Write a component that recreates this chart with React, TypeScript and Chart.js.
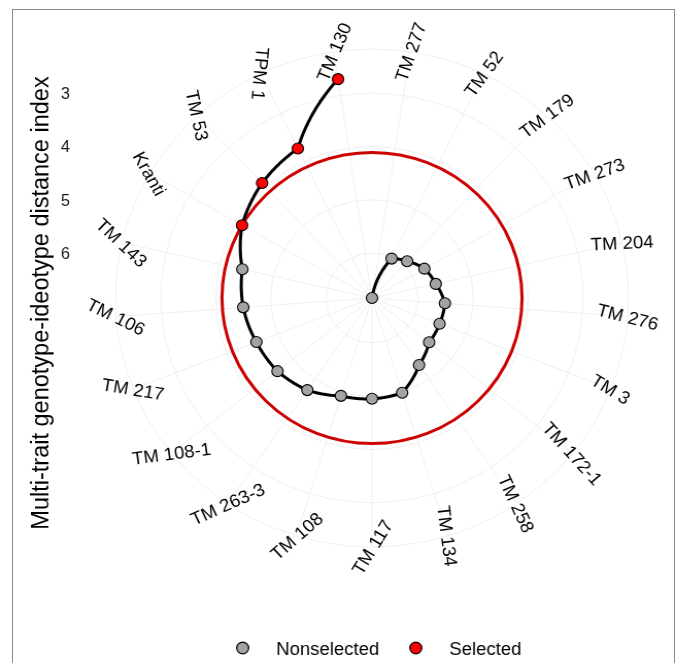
import React, { useEffect, useRef } from 'react';
import { Chart, registerables } from 'chart.js';

Chart.register(...registerables);

// Genotypes in clockwise order (starting just right of the top)
const genotypes = [
  'TM 277', 'TM 52', 'TM 179', 'TM 273', 'TM 204', 'TM 276', 'TM 3', 'TM 172-1',
  'TM 258', 'TM 134', 'TM 117', 'TM 108', 'TM 263-3', 'TM 108-1', 'TM 217',
  'TM 106', 'TM 143', 'Kranti', 'TM 53', 'TPM 1', 'TM 130',
];
// Multi-trait genotype-ideotype distance index (MGIDI)
const mgidi = [
  6.84, 6.02, 5.90, 5.74, 5.65, 5.51, 5.52, 5.51,
  5.32, 4.98, 4.95, 4.92, 4.75, 4.64, 4.58,
  4.49, 4.42, 4.11, 3.90, 3.73, 2.69,
];
const selectedGenotypes = ['Kranti', 'TM 53', 'TPM 1', 'TM 130'];
const radialTicks = [3, 4, 5, 6];
const legendLabels = ['Nonselected', 'Selected'];
const axisTitle = 'Multi-trait genotype-ideotype distance index';

const SX = 1.03; // horizontal stretch of the reference picture
const PAGE_W = 676;
const PAGE_H = 663;
const CW = Math.round(PAGE_W / SX);
const FONT = '"Liberation Sans", Arial, Helvetica, sans-serif';
const GRAY = '#a3a3a3';
const RED = '#ff0000';
const CUT_RED = '#cc0000';

const dataMax = Math.max(...mgidi);
const dataMin = Math.min(...mgidi);
const rMax = dataMax;
const rMin = dataMin - (dataMax - dataMin) * 0.125; // outer ring at 0.45 vs data at 0.4
const cutpoint = Math.max(
  ...mgidi.filter((_, i) => selectedGenotypes.includes(genotypes[i]))
);
const n = genotypes.length;
const stepDeg = 360 / n;

const mgidiPlugin = {
  id: 'mgidiDecor',
  beforeDatasetsDraw(chart: any) {
    const s = chart.scales.r;
    const ctx = chart.ctx as CanvasRenderingContext2D;
    ctx.save();
    // cut-point circle
    ctx.beginPath();
    ctx.arc(s.xCenter, s.yCenter, s.getDistanceFromCenterForValue(cutpoint), 0, Math.PI * 2);
    ctx.strokeStyle = CUT_RED;
    ctx.lineWidth = 3;
    ctx.stroke();
    // path in polar coordinates (linear in angle and radius)
    ctx.beginPath();
    const steps = 30;
    for (let i = 0; i < n - 1; i++) {
      for (let k = 0; k <= steps; k++) {
        const t = k / steps;
        const idx = i + t;
        const v = mgidi[i] + (mgidi[i + 1] - mgidi[i]) * t;
        const p = s.getPointPositionForValue(idx, v);
        if (i === 0 && k === 0) ctx.moveTo(p.x, p.y);
        else ctx.lineTo(p.x, p.y);
      }
    }
    ctx.strokeStyle = '#000';
    ctx.lineWidth = 3;
    ctx.lineJoin = 'round';
    ctx.lineCap = 'round';
    ctx.stroke();
    ctx.restore();
  },
  afterDraw(chart: any) {
    const s = chart.scales.r;
    const ctx = chart.ctx as CanvasRenderingContext2D;
    ctx.save();
    // category labels
    ctx.fillStyle = '#000';
    ctx.font = `18px ${FONT}`;
    ctx.textAlign = 'center';
    ctx.textBaseline = 'alphabetic';
    genotypes.forEach((g, i) => {
      const theta = 180 / n + i * stepDeg;
      const p = s.getPointPosition(i, s.drawingArea);
      let rot = theta < 180 ? theta - 90 + 10 : theta - 270 + 31;
      if (rot > 100) rot -= 180;
      ctx.save();
      ctx.translate(p.x, p.y);
      ctx.rotate((rot * Math.PI) / 180);
      ctx.fillText(g, 0, 18 * 0.36);
      ctx.restore();
    });
    // radial tick labels on the left
    ctx.fillStyle = '#1a1a1a';
    ctx.font = `16px ${FONT}`;
    radialTicks.forEach((v) => {
      const y = s.yCenter - s.getDistanceFromCenterForValue(v);
      ctx.fillText(String(v), 63.5, y + 16 * 0.36);
    });
    // axis title
    ctx.save();
    ctx.fillStyle = '#000';
    ctx.font = `23.5px ${FONT}`;
    ctx.translate(47, 303);
    ctx.rotate(-Math.PI / 2);
    ctx.fillText(axisTitle, 0, 0);
    ctx.restore();
    // legend
    const items = [
      { label: legendLabels[0], color: GRAY, x: 235.5 },
      { label: legendLabels[1], color: RED, x: 403.5 },
    ];
    ctx.font = `18px ${FONT}`;
    ctx.textAlign = 'left';
    items.forEach((it) => {
      ctx.beginPath();
      ctx.arc(it.x, 648, 5.8, 0, Math.PI * 2);
      ctx.fillStyle = it.color;
      ctx.fill();
      ctx.lineWidth = 1.2;
      ctx.strokeStyle = '#000';
      ctx.stroke();
      ctx.fillStyle = '#000';
      ctx.fillText(it.label, it.x + 32.5, 655);
    });
    ctx.restore();
  },
};

export default function App() {
  const ref = useRef<HTMLCanvasElement | null>(null);
  useEffect(() => {
    if (!ref.current) return;
    const chart = new Chart(ref.current, {
      type: 'radar',
      data: {
        labels: genotypes,
        datasets: [
          {
            label: 'MGIDI',
            data: mgidi,
            showLine: false,
            fill: false,
            pointRadius: 5.5,
            pointHoverRadius: 5.5,
            pointBorderWidth: 1.1,
            pointBorderColor: '#000',
            pointBackgroundColor: genotypes.map((g) =>
              selectedGenotypes.includes(g) ? RED : GRAY
            ),
          },
        ],
      },
      options: {
        responsive: false,
        animation: false,
        events: [],
        layout: { padding: { left: 112, top: 49, right: CW - 112 - 498, bottom: PAGE_H - 49 - 498 } },
        plugins: { legend: { display: false }, tooltip: { enabled: false } },
        scales: {
          r: {
            reverse: true,
            min: rMin,
            max: rMax,
            startAngle: 180 / n,
            ticks: { display: false },
            pointLabels: { display: false },
            grid: { circular: true, color: '#efefef', lineWidth: 1 },
            angleLines: { display: true, color: '#efefef', lineWidth: 1 },
            afterBuildTicks: (scale: any) => {
              scale.ticks = [rMax, ...radialTicks.slice().reverse(), rMin].map((v) => ({ value: v }));
            },
          },
        },
      },
      plugins: [mgidiPlugin],
    } as any);
    return () => chart.destroy();
  }, []);
  return (
    <div style={{ position: 'absolute', left: 0, top: 0, width: PAGE_W, height: PAGE_H, background: '#fff', overflow: 'hidden' }}>
      <canvas
        ref={ref}
        width={CW}
        height={PAGE_H}
        style={{ width: PAGE_W + 'px', height: PAGE_H + 'px', display: 'block' }}
      />
      <div
        style={{
          position: 'absolute', left: 12, top: 9, width: 661, height: 660,
          borderLeft: '1px solid #8a8a8a', borderTop: '1px solid #8a8a8a', borderRight: '1px solid #8a8a8a',
          pointerEvents: 'none',
        }}
      />
    </div>
  );
}
